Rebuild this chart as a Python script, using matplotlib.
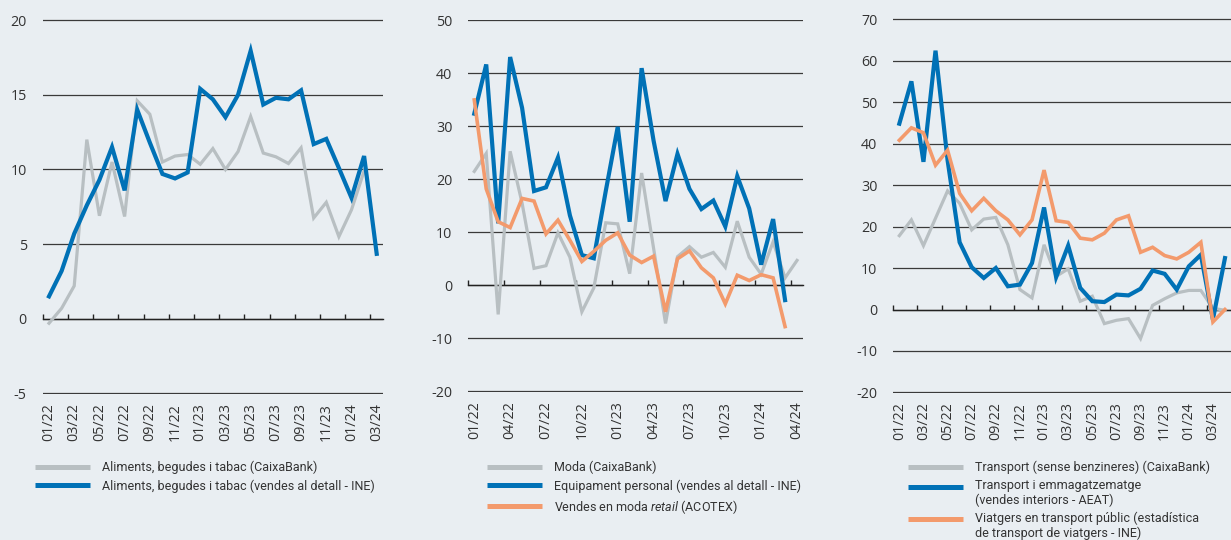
import matplotlib
matplotlib.use('Agg')
import matplotlib.pyplot as plt
from matplotlib.lines import Line2D
from matplotlib.legend_handler import HandlerLine2D
from matplotlib import font_manager as fm

# ---------------- data ----------------
months = ['01/22', '02/22', '03/22', '04/22', '05/22', '06/22', '07/22', '08/22', '09/22', '10/22',
          '11/22', '12/22', '01/23', '02/23', '03/23', '04/23', '05/23', '06/23', '07/23', '08/23',
          '09/23', '10/23', '11/23', '12/23', '01/24', '02/24', '03/24', '04/24']

# Panel 1 (food, drinks, tobacco)
food_caixabank = [-0.3, 0.7, 2.2, 12.0, 6.9, 10.5, 6.85, 14.6, 13.7, 10.5, 10.9, 11.0, 10.35,
                  11.4, 10.0, 11.2, 13.55, 11.1, 10.85, 10.4, 11.45, 6.75, 7.8, 5.5, 7.3, 9.9]
food_ine = [1.5, 3.2, 5.7, 7.6, 9.3, 11.5, 8.6, 14.0, 11.8, 9.7, 9.4, 9.8, 15.4, 14.7, 13.5,
            15.0, 17.95, 14.35, 14.8, 14.7, 15.3, 11.7, 12.05, 10.1, 8.1, 10.9, 4.35]

# Panel 2 (fashion)
fashion_caixabank = [21.5, 24.9, -5.5, 25.3, 15.5, 3.2, 3.7, 9.9, 5.3, -5.0, -0.5, 11.8, 11.6,
                     2.2, 21.2, 7.0, -7.2, 5.4, 7.3, 5.3, 6.2, 3.4, 12.1, 5.3, 2.1, 8.2, 1.4, 4.7]
personal_equipment_ine = [32.4, 41.7, 11.7, 43.1, 33.5, 17.8, 18.5, 24.1, 13.2, 5.7, 5.1, 17.8,
                          29.9, 12.0, 41.0, 27.3, 15.9, 24.8, 18.2, 14.4, 16.0, 11.1, 20.6, 14.5,
                          3.9, 12.5, -2.8]
fashion_retail_acotex = [35.0, 18.2, 12.0, 10.9, 16.4, 15.9, 9.7, 12.3, 8.5, 4.5, 6.4, 8.5, 9.9,
                         5.7, 4.3, 5.5, -5.0, 5.0, 6.5, 3.3, 1.4, -3.5, 1.9, 0.9, 2.0, 1.4, -7.8]

# Panel 3 (transport)
transport_caixabank = [17.8, 21.6, 15.4, 22.0, 28.6, 25.6, 19.2, 21.8, 22.2, 15.6, 4.8, 2.8, 15.6,
                       8.0, 9.8, 2.0, 3.2, -3.4, -2.6, -2.2, -7.0, 1.0, 2.6, 4.0, 4.6, 4.6, 0.3, -0.2]
transport_storage_aeat = [44.8, 55.0, 35.6, 62.4, 36.0, 16.2, 10.2, 7.6, 10.0, 5.6, 6.0, 11.2, 24.6,
                          7.8, 15.4, 5.2, 2.0, 1.8, 3.6, 3.4, 5.0, 9.4, 8.6, 4.8, 10.4, 13.2, -2.4, 12.4]
public_transport_ine = [40.8, 43.8, 42.6, 34.8, 38.4, 28.0, 23.8, 26.8, 23.8, 21.6, 18.0, 21.6, 33.6,
                        21.4, 21.0, 17.2, 16.8, 18.4, 21.6, 22.6, 13.8, 15.0, 13.0, 12.2, 13.8, 16.2,
                        -3.0, 0.0]

labels1 = ['Aliments, begudes i tabac (CaixaBank)',
           'Aliments, begudes i tabac (vendes al detall - INE)']
labels2 = ['Moda (CaixaBank)',
           'Equipament personal (vendes al detall - INE)',
           'Vendes en moda $\\it{retail}$ (ACOTEX)']
labels3 = ['Transport (sense benzineres) (CaixaBank)',
           'Transport i emmagatzematge\n(vendes interiors - AEAT)',
           'Viatgers en transport públic (estadística\nde transport de viatgers - INE)']

yticks1 = [-5, 0, 5, 10, 15, 20]
yticks2 = [-20, -10, 0, 10, 20, 30, 40, 50]
yticks3 = [-20, -10, 0, 10, 20, 30, 40, 50, 60, 70]

# ---------------- style ----------------
BG = '#E9EEF2'
GRAY = '#B8BFC2'
BLUE = '#0071B6'
ORANGE = '#F39A6C'
TXT = '#333333'

names = {f.name for f in fm.fontManager.ttflist}
if 'Liberation Sans Narrow' in names:
    LEG_FAMILY, LEG_SIZE = 'Liberation Sans Narrow', 9.6
else:
    LEG_FAMILY, LEG_SIZE = 'Roboto', 9.0
TICK_FAMILY = 'Open Sans' if 'Open Sans' in names else 'DejaVu Sans'

plt.rcParams['mathtext.fontset'] = 'custom'
plt.rcParams['mathtext.rm'] = LEG_FAMILY
plt.rcParams['mathtext.it'] = LEG_FAMILY + ':italic'

fig = plt.figure(figsize=(12.31, 5.40), dpi=100, facecolor=BG)

boxes = [
    (42.7, 383.0, 19.3, 394.3),
    (468.3, 803.0, 19.7, 392.0),
    (893.3, 1231.0, 18.3, 393.3),
]
W, H = 1231.0, 540.0


def make_ax(box):
    l, r, t, b = box
    return fig.add_axes([l / W, 1 - b / H, (r - l) / W, (b - t) / H])


class FirstLineHandler(HandlerLine2D):
    def __init__(self, shift=0.0, **kw):
        super().__init__(**kw)
        self.shift = shift

    def create_artists(self, legend, orig_handle, xdescent, ydescent, width, height, fontsize, trans):
        return super().create_artists(legend, orig_handle, xdescent, ydescent - 2 * self.shift,
                                      width, height, fontsize, trans)


def style_ax(ax, yticks, ylo, yhi, xmax, tick_bounds, label_pos, label_txt):
    ax.set_facecolor('none')
    ax.set_xlim(-0.5, xmax)
    ax.set_ylim(ylo, yhi)
    ax.set_yticks(yticks)
    ax.set_yticklabels([str(v) for v in yticks], family=TICK_FAMILY, fontsize=10.3, color=TXT)
    ax.tick_params(axis='y', length=0, pad=11.5)
    ax.yaxis.grid(True, color='#3a3a3a', lw=0.9)
    ax.set_axisbelow(True)
    for s in ['top', 'right', 'left']:
        ax.spines[s].set_visible(False)
    ax.spines['bottom'].set_position(('data', 0))
    ax.spines['bottom'].set_color('#222222')
    ax.spines['bottom'].set_linewidth(1.0)
    ax.set_xticks([])
    ax.set_xticks(tick_bounds, minor=True)
    ax.tick_params(axis='x', which='minor', direction='in', length=3.5, width=1.0, color='#222222')
    sec = ax.secondary_xaxis('bottom')
    sec.set_xticks(label_pos)
    sec.set_xticklabels(label_txt, family=TICK_FAMILY, fontsize=10.3, color=TXT, rotation=90)
    sec.tick_params(length=0, pad=6.5)
    sec.spines['bottom'].set_visible(False)


def add_legend(ax, handles, labels, x_px, shifts):
    leg = fig.legend(handles, labels, loc='upper left',
                     bbox_to_anchor=(x_px / W, 1 - 460.5 / H),
                     bbox_transform=fig.transFigure, frameon=False,
                     prop={'family': LEG_FAMILY, 'size': LEG_SIZE},
                     handlelength=4.4, handletextpad=0.95, labelspacing=0.42,
                     borderpad=0, borderaxespad=0,
                     handler_map={h: FirstLineHandler(shift=s) for h, s in zip(handles, shifts)})
    for t in leg.get_texts():
        t.set_color(TXT)
        t.set_linespacing(1.1)
    return leg


def handle(color, lw=3.6):
    return Line2D([], [], color=color, lw=lw, solid_capstyle='butt')


# ---------- Panel 1 ----------
ax1 = make_ax(boxes[0])
ax1.plot(range(len(food_caixabank)), food_caixabank, color=GRAY, lw=2.3, solid_joinstyle='miter', zorder=3)
ax1.plot(range(len(food_ine)), food_ine, color=BLUE, lw=3.0, solid_joinstyle='miter', zorder=4)
style_ax(ax1, yticks1, -5.06, 20.06, 26.5,
         [i - 0.5 for i in range(0, 27, 2)],
         list(range(0, 27, 2)), months[0:27:2])
add_legend(ax1, [handle(GRAY), handle(BLUE)], labels1, 35, [0, 0])

# ---------- Panel 2 ----------
ax2 = make_ax(boxes[1])
ax2.plot(range(len(fashion_caixabank)), fashion_caixabank, color=GRAY, lw=2.3, solid_joinstyle='miter', zorder=3)
ax2.plot(range(len(personal_equipment_ine)), personal_equipment_ine, color=BLUE, lw=3.0, solid_joinstyle='miter', zorder=4)
ax2.plot(range(len(fashion_retail_acotex)), fashion_retail_acotex, color=ORANGE, lw=2.6, solid_joinstyle='miter', zorder=5)
style_ax(ax2, yticks2, -20.15, 50.15, 27.5,
         [i - 0.5 for i in range(0, 28, 3)],
         list(range(0, 28, 3)), months[0:28:3])
add_legend(ax2, [handle(GRAY), handle(BLUE), handle(ORANGE)], labels2, 487, [0, 0, 0])

# ---------- Panel 3 ----------
ax3 = make_ax(boxes[2])
ax3.plot(range(len(transport_caixabank)), transport_caixabank, color=GRAY, lw=2.3, solid_joinstyle='miter', zorder=3)
ax3.plot(range(len(transport_storage_aeat)), transport_storage_aeat, color=BLUE, lw=3.0, solid_joinstyle='miter', zorder=4)
ax3.plot(range(len(public_transport_ine)), public_transport_ine, color=ORANGE, lw=2.6, solid_joinstyle='miter', zorder=5)
style_ax(ax3, yticks3, -20.2, 70.2, 27.5,
         [i - 0.5 for i in range(0, 27, 2)],
         list(range(0, 27, 2)), months[0:27:2])
add_legend(ax3, [handle(GRAY), handle(BLUE), handle(ORANGE)], labels3, 908, [0, 5.0, 5.0])

fig.savefig('out.png', dpi=100, facecolor=BG)
